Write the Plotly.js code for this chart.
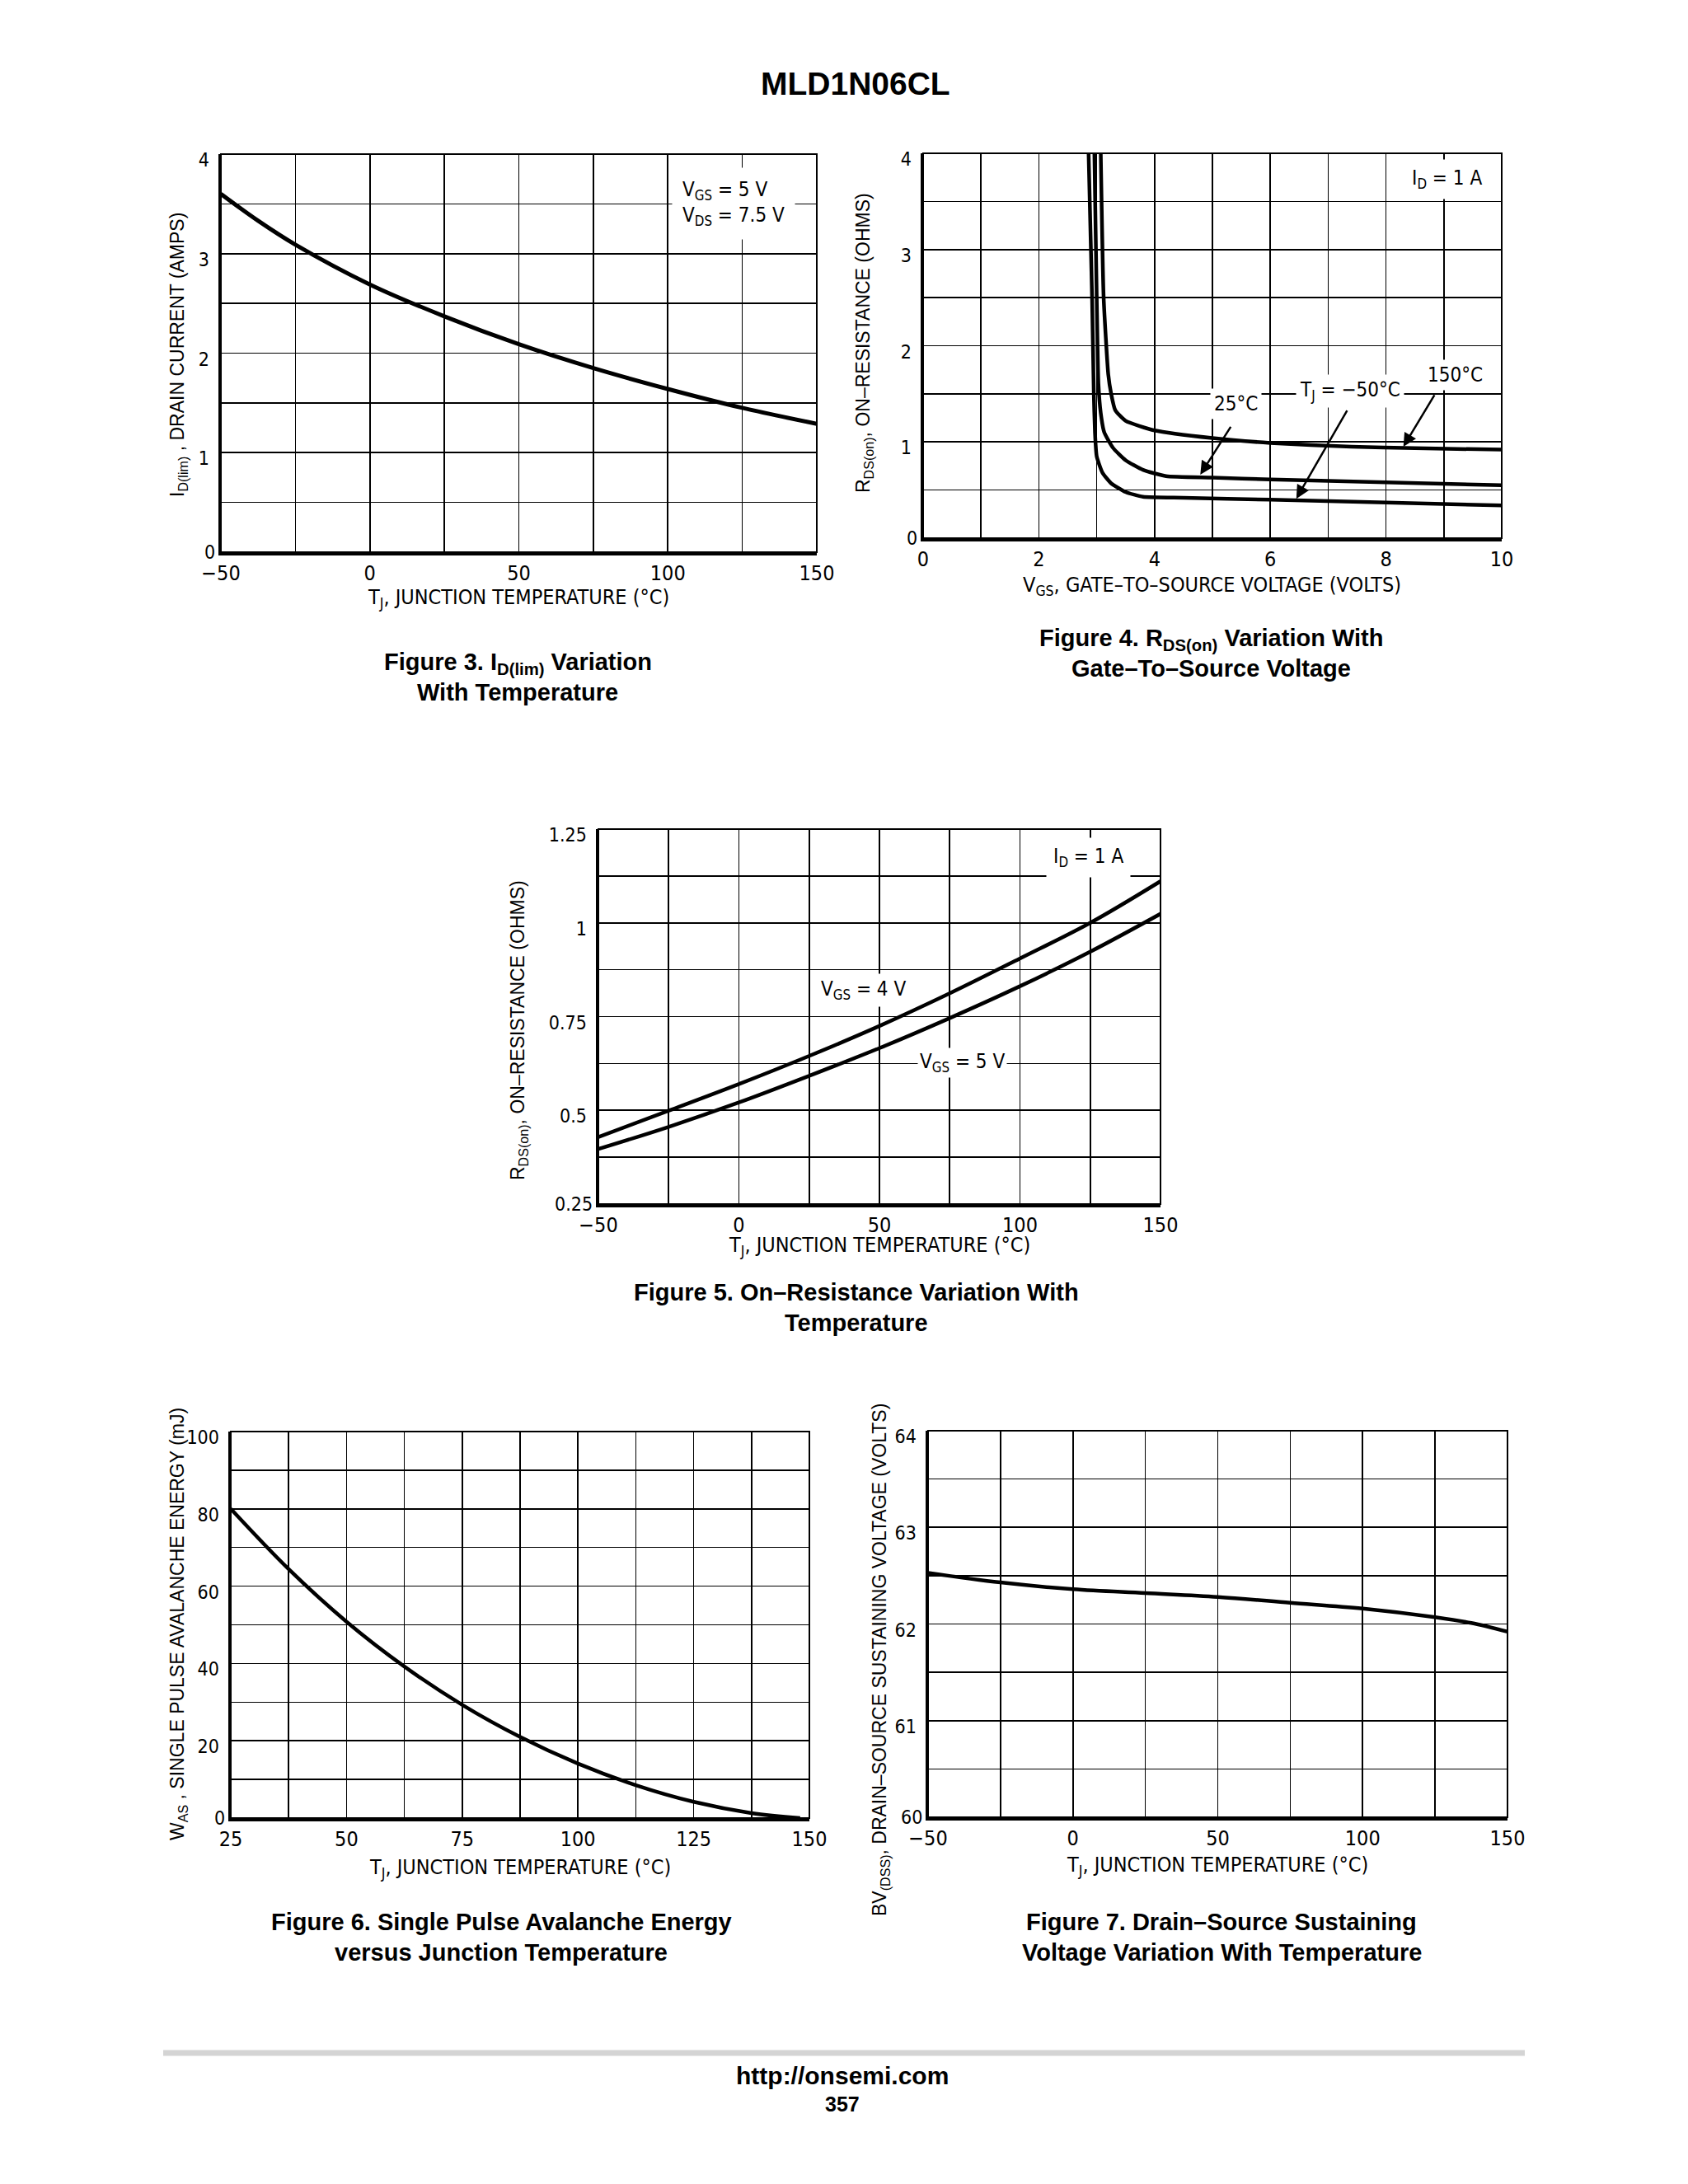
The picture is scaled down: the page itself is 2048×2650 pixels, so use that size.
<!DOCTYPE html>
<html>
<head>
<meta charset="utf-8">
<script src="https://cdn.plot.ly/plotly-3.0.1.min.js"></script>
<style>
  html, body { margin: 0; padding: 0; background: #fff; }
  #chart { width: 2048px; height: 2650px; }
</style>
</head>
<body>
<div id="chart"></div>
<script>
// ---------------- DATA ----------------
// Figure 3: ID(lim) vs TJ
const fig3Temp = [-50, -37.5, -25, 0, 25, 50, 75, 100, 125, 150];
const fig3Current = [3.60, 3.33, 3.09, 2.69, 2.37, 2.09, 1.85, 1.64, 1.45, 1.29];

// Figure 4: RDS(on) vs VGS at three temperatures
const fig4VgsM50 = [2.86, 2.92, 2.95, 2.97, 3.00, 3.10, 3.25, 3.50, 3.80, 4.50, 6.00, 8.00, 10.0];
const fig4RdsM50 = [4.00, 2.50, 1.50, 1.10, 0.85, 0.68, 0.57, 0.48, 0.43, 0.42, 0.40, 0.37, 0.34];
const fig4Vgs25 = [2.96, 3.00, 3.03, 3.07, 3.13, 3.28, 3.50, 3.80, 4.20, 5.00, 6.00, 8.00, 10.0];
const fig4Rds25 = [4.00, 2.50, 1.60, 1.30, 1.10, 0.94, 0.81, 0.71, 0.645, 0.63, 0.61, 0.58, 0.55];
const fig4Vgs150 = [3.07, 3.12, 3.20, 3.25, 3.32, 3.50, 4.00, 5.00, 6.00, 7.40, 8.50, 10.0];
const fig4Rds150 = [4.00, 2.50, 1.70, 1.50, 1.33, 1.22, 1.12, 1.04, 0.99, 0.95, 0.935, 0.92];

// Figure 5: RDS(on) vs TJ
const fig5Temp = [-50, -25, 0, 25, 50, 75, 100, 125, 150];
const fig5Vgs4 = [0.429, 0.499, 0.570, 0.645, 0.725, 0.812, 0.905, 1.000, 1.111];
const fig5Vgs5 = [0.397, 0.456, 0.521, 0.592, 0.666, 0.746, 0.831, 0.923, 1.024];

// Figure 6: WAS vs TJ
const fig6Temp = [25, 37.5, 50, 62.5, 75, 87.5, 100, 112.5, 125, 137.5, 148];
const fig6Energy = [80, 64.4, 50.8, 39.2, 29.3, 21.0, 14.1, 8.5, 4.2, 1.3, 0];

// Figure 7: BV(DSS) vs TJ
const fig7Temp = [-50, -25, 0, 25, 50, 75, 100, 125, 137.5, 150];
const fig7Volt = [62.53, 62.43, 62.36, 62.32, 62.28, 62.22, 62.16, 62.07, 62.01, 61.92];

// Tick / grid values and labels
const tempGridVals = [-50, -25, 0, 25, 50, 75, 100, 125, 150];
const tempGridText = ['\u221250', '', '0', '', '50', '', '100', '', '150'];
const fig3YVals = [0, 0.5, 1, 1.5, 2, 2.5, 3, 3.5, 4];
const fig3YText = ['', '', '1', '', '2', '', '3', '', '4'];
const fig4XVals = [0, 1, 2, 3, 4, 5, 6, 7, 8, 9, 10];
const fig4XText = ['0', '', '2', '', '4', '', '6', '', '8', '', '10'];
const fig4YVals = [0, 0.5, 1, 1.5, 2, 2.5, 3, 3.5, 4];
const fig4YText = ['', '', '1', '', '2', '', '3', '', '4'];
const fig5YVals = [0.25, 0.375, 0.5, 0.625, 0.75, 0.875, 1, 1.125, 1.25];
const fig5YText = ['', '', '0.5', '', '0.75', '', '1', '', '1.25'];
const fig6XVals = [25, 37.5, 50, 62.5, 75, 87.5, 100, 112.5, 125, 137.5, 150];
const fig6XText = ['25', '', '50', '', '75', '', '100', '', '125', '', '150'];
const fig6YVals = [0, 10, 20, 30, 40, 50, 60, 70, 80, 90, 100];
const fig6YText = ['', '', '20', '', '40', '', '60', '', '80', '', '100'];
const fig7YVals = [60, 60.5, 61, 61.5, 62, 62.5, 63, 63.5, 64];
const fig7YText = ['', '', '61', '', '62', '', '63', '', '64'];
// bottom-of-axis labels (drawn centred on the axis line)
const fig3YBottom = 0, fig3YBottomText = '0';
const fig4YBottom = 0, fig4YBottomText = '0';
const fig5YBottom = 0.25, fig5YBottomText = '0.25';
const fig6YBottom = 0, fig6YBottomText = '0';
const fig7YBottom = 60, fig7YBottomText = '60';

// ---------------- STYLE / LAYOUT ----------------
const W = 2048, H = 2650;
const NARROW = '"Liberation Sans Narrow", "Arial Narrow", "DejaVu Sans Condensed", "Liberation Sans", sans-serif';
const SANS = '"Liberation Sans", Arial, Helvetica, sans-serif';
const px = (x) => x / W;
const py = (y) => 1 - y / H;

// plot boxes in pixels: [left, right, top, bottom]
const boxes = {
  f3: [268, 991, 187, 670],
  f4: [1120, 1822, 186, 653],
  f5: [726, 1408, 1006, 1461],
  f6: [280, 982, 1737, 2206],
  f7: [1126, 1829, 1736, 2205]
};

function xAxis(box, range, vals, text, anchor) {
  return {
    domain: [px(box[0]), px(box[1])], anchor: anchor,
    range: range, tickmode: 'array', tickvals: vals, ticktext: text,
    showgrid: true, gridcolor: '#000', gridwidth: 1.6,
    showline: true, linecolor: '#000', linewidth: 3.5,
    zeroline: false, ticks: '', ticklabelstandoff: 0, tickangle: 0,
    tickfont: { family: NARROW, size: 25, color: '#000' },
    fixedrange: true
  };
}
function yAxis(box, range, vals, text, anchor) {
  return {
    domain: [py(box[3]), py(box[2])], anchor: anchor,
    range: range, tickmode: 'array', tickvals: vals, ticktext: text,
    showgrid: true, gridcolor: '#000', gridwidth: 1.6,
    showline: true, linecolor: '#000', linewidth: 3.5,
    zeroline: false, ticks: '', ticklabelstandoff: 6, tickangle: 0,
    ticklabelshift: 7,
    tickfont: { family: NARROW, size: 23, color: '#000' },
    fixedrange: true
  };
}

const lineStyle = (w) => ({ color: '#000', width: w, shape: 'spline', smoothing: 1 });
const kneeStyle = { color: '#000', width: 4.5, shape: 'spline', smoothing: 0.5 };

const traces = [
  { x: fig3Temp, y: fig3Current, xaxis: 'x', yaxis: 'y', mode: 'lines', line: lineStyle(5) },
  { x: fig4VgsM50, y: fig4RdsM50, xaxis: 'x2', yaxis: 'y2', mode: 'lines', line: kneeStyle },
  { x: fig4Vgs25, y: fig4Rds25, xaxis: 'x2', yaxis: 'y2', mode: 'lines', line: kneeStyle },
  { x: fig4Vgs150, y: fig4Rds150, xaxis: 'x2', yaxis: 'y2', mode: 'lines', line: kneeStyle },
  { x: fig5Temp, y: fig5Vgs4, xaxis: 'x3', yaxis: 'y3', mode: 'lines', line: lineStyle(4.5) },
  { x: fig5Temp, y: fig5Vgs5, xaxis: 'x3', yaxis: 'y3', mode: 'lines', line: lineStyle(4.5) },
  { x: fig6Temp, y: fig6Energy, xaxis: 'x4', yaxis: 'y4', mode: 'lines', line: lineStyle(4.5) },
  { x: fig7Temp, y: fig7Volt, xaxis: 'x5', yaxis: 'y5', mode: 'lines', line: lineStyle(4.5) }
];

const shapes = [];
['', '2', '3', '4', '5'].forEach(s => {
  shapes.push({ type: 'rect', xref: 'x' + s + ' domain', yref: 'y' + s + ' domain',
    x0: 0, x1: 1, y0: 0, y1: 1, line: { color: '#000', width: 2 }, layer: 'below' });
});
// footer rule
shapes.push({ type: 'line', xref: 'paper', yref: 'paper', x0: px(198), x1: px(1850), y0: py(2491), y1: py(2491),
  line: { color: '#d4d4d4', width: 7 } });

const ann = [];
function txt(x, y, text, size, opts) {
  ann.push(Object.assign({ xref: 'paper', yref: 'paper', x: px(x), y: py(y), text: text, showarrow: false,
    xanchor: 'center', yanchor: 'middle', font: { family: SANS, size: size, color: '#000' } }, opts || {}));
}
function inPlot(xr, yr, x, y, text, opts) {
  ann.push(Object.assign({ xref: xr, yref: yr, x: x, y: y, text: text, showarrow: false,
    xanchor: 'center', yanchor: 'middle', bgcolor: '#fff', borderpad: 4,
    font: { family: NARROW, size: 24, color: '#000' } }, opts || {}));
}
function arrow(xr, yr, fromX, fromY, toX, toY) {
  ann.push({ xref: xr, yref: yr, axref: xr, ayref: yr, x: toX, y: toY, ax: fromX, ay: fromY, text: '',
    showarrow: true, arrowhead: 2, arrowsize: 1.3, arrowwidth: 2.5, arrowcolor: '#000', standoff: 0 });
}
// bottom y tick label, centred on the x axis line, left of the y axis
function bottomLabel(xr, yr, yVal, text) {
  ann.push({ xref: xr + ' domain', yref: yr, x: 0, y: yVal, text: text, showarrow: false,
    xanchor: 'right', yanchor: 'middle', xshift: -5,
    font: { family: NARROW, size: 23, color: '#000' } });
}
const xTitleFont = { family: NARROW, size: 25, color: '#000' };

// Header & footer
txt(1038, 101, '<b>MLD1N06CL</b>', 39);
txt(1022, 2518, '<b>http://onsemi.com</b>', 30);
txt(1022, 2553, '<b>357</b>', 25);

// Axis titles (x)
const xTitleT = 'T<sub>J</sub>, JUNCTION TEMPERATURE (°C)';
txt(629, 726, xTitleT, 25, { font: xTitleFont });
txt(1470, 711, 'V<sub>GS</sub>, GATE–TO–SOURCE VOLTAGE (VOLTS)', 25, { font: xTitleFont });
txt(1067, 1512, xTitleT, 25, { font: xTitleFont });
txt(631, 2267, xTitleT, 25, { font: xTitleFont });
txt(1477, 2264, xTitleT, 25, { font: xTitleFont });

// Axis titles (y)
txt(216, 431, 'I<sub>D(lim)</sub> , DRAIN CURRENT (AMPS)', 23, { textangle: -90 });
txt(1048, 416, 'R<sub>DS(on)</sub>, ON–RESISTANCE (OHMS)', 23, { textangle: -90 });
txt(629, 1250, 'R<sub>DS(on)</sub>, ON–RESISTANCE (OHMS)', 23, { textangle: -90 });
txt(216, 1971, 'W<sub>AS</sub> , SINGLE PULSE AVALANCHE ENERGY (mJ)', 23, { textangle: -90 });
txt(1068, 2014, 'BV<sub>(DSS)</sub>, DRAIN–SOURCE SUSTAINING VOLTAGE (VOLTS)', 23, { textangle: -90 });

// Captions
txt(628, 805, '<b>Figure 3. I<sub>D(lim)</sub> Variation</b>', 29);
txt(628, 840, '<b>With Temperature</b>', 29);
txt(1469, 776, '<b>Figure 4. R<sub>DS(on)</sub> Variation With</b>', 29);
txt(1469, 811, '<b>Gate–To–Source Voltage</b>', 29);
txt(1039, 1568, '<b>Figure 5. On–Resistance Variation With</b>', 29);
txt(1039, 1605, '<b>Temperature</b>', 29);
txt(608, 2332, '<b>Figure 6. Single Pulse Avalanche Energy</b>', 29);
txt(608, 2369, '<b>versus Junction Temperature</b>', 29);
txt(1482, 2332, '<b>Figure 7. Drain–Source Sustaining</b>', 29);
txt(1482, 2369, '<b>Voltage Variation With Temperature</b>', 29);

// Bottom y tick labels
bottomLabel('x', 'y', fig3YBottom, fig3YBottomText);
bottomLabel('x2', 'y2', fig4YBottom, fig4YBottomText);
bottomLabel('x3', 'y3', fig5YBottom, fig5YBottomText);
bottomLabel('x4', 'y4', fig6YBottom, fig6YBottomText);
bottomLabel('x5', 'y5', fig7YBottom, fig7YBottomText);

// In-plot labels
inPlot('x', 'y', 122, 3.50, 'V<sub>GS</sub> = 5 V<br>V<sub>DS</sub> = 7.5 V', { align: 'left', borderpad: 12 });
inPlot('x2', 'y2', 9.05, 3.73, 'I<sub>D</sub> = 1 A', { borderpad: 8 });
inPlot('x2', 'y2', 9.19, 1.70, '150°C', {});
inPlot('x2', 'y2', 7.38, 1.53, 'T<sub>J</sub> = −50°C', {});
inPlot('x2', 'y2', 5.41, 1.40, '25°C', {});
arrow('x2', 'y2', 8.85, 1.50, 8.30, 0.95);
arrow('x2', 'y2', 7.34, 1.34, 6.45, 0.41);
arrow('x2', 'y2', 5.33, 1.17, 4.79, 0.66);
inPlot('x3', 'y3', 44.4, 0.821, 'V<sub>GS</sub> = 4 V', {});
inPlot('x3', 'y3', 79.6, 0.626, 'V<sub>GS</sub> = 5 V', { borderpad: 2 });
inPlot('x3', 'y3', 124.2, 1.175, 'I<sub>D</sub> = 1 A', { borderpad: 8 });

const layout = {
  width: W, height: H,
  margin: { l: 0, r: 0, t: 0, b: 0, pad: 0 },
  paper_bgcolor: '#fff', plot_bgcolor: '#fff',
  showlegend: false,
  xaxis: xAxis(boxes.f3, [-50, 150], tempGridVals, tempGridText, 'y'),
  yaxis: yAxis(boxes.f3, [0, 4], fig3YVals, fig3YText, 'x'),
  xaxis2: xAxis(boxes.f4, [0, 10], fig4XVals, fig4XText, 'y2'),
  yaxis2: yAxis(boxes.f4, [0, 4], fig4YVals, fig4YText, 'x2'),
  xaxis3: xAxis(boxes.f5, [-50, 150], tempGridVals, tempGridText, 'y3'),
  yaxis3: yAxis(boxes.f5, [0.25, 1.25], fig5YVals, fig5YText, 'x3'),
  xaxis4: xAxis(boxes.f6, [25, 150], fig6XVals, fig6XText, 'y4'),
  yaxis4: yAxis(boxes.f6, [0, 100], fig6YVals, fig6YText, 'x4'),
  xaxis5: xAxis(boxes.f7, [-50, 150], tempGridVals, tempGridText, 'y5'),
  yaxis5: yAxis(boxes.f7, [60, 64], fig7YVals, fig7YText, 'x5'),
  shapes: shapes,
  annotations: ann
};

Plotly.newPlot('chart', traces, layout, { staticPlot: true, displayModeBar: false });
</script>
</body>
</html>
